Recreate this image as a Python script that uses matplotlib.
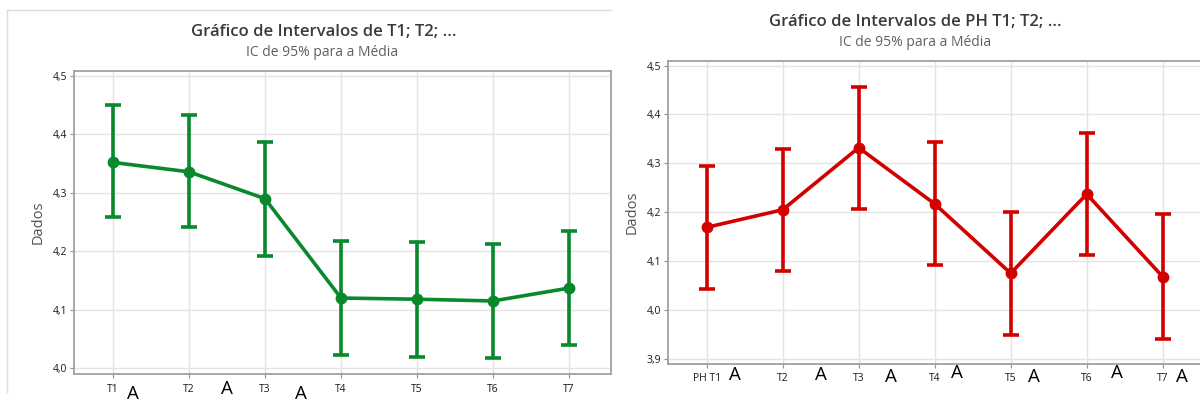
import matplotlib
matplotlib.use('Agg')
import matplotlib.pyplot as plt
import matplotlib.ticker as mticker
import matplotlib.lines as mlines

plt.rcParams['font.family'] = ['Open Sans', 'DejaVu Sans']

# left chart (green)
left_labels = ['T1', 'T2', 'T3', 'T4', 'T5', 'T6', 'T7']
left_mean = [4.352, 4.336, 4.290, 4.120, 4.118, 4.115, 4.137]
left_low = [4.258, 4.241, 4.192, 4.023, 4.019, 4.017, 4.040]
left_high = [4.451, 4.434, 4.387, 4.218, 4.216, 4.213, 4.235]
left_letters = ['A', 'A', 'A']

# right chart (red)
right_labels = ['PH T1', 'T2', 'T3', 'T4', 'T5', 'T6', 'T7']
right_mean = [4.169, 4.205, 4.332, 4.217, 4.075, 4.237, 4.068]
right_low = [4.042, 4.079, 4.206, 4.092, 3.948, 4.113, 3.940]
right_high = [4.294, 4.330, 4.456, 4.343, 4.201, 4.363, 4.196]
right_letters = ['A', 'A', 'A', 'A', 'A', 'A', 'A']

W, H = 1200, 401
fig = plt.figure(figsize=(12, 4.01), dpi=100)


def px(x, y):
    # pixel coords (top-left origin) -> figure fraction
    return x / W, 1 - y / H


def draw_panel(rect, labels, mean, low, high, color, ylim, yticks, xlim):
    ax = fig.add_axes(rect)
    x = list(range(1, len(mean) + 1))
    yerr = [[m - l for m, l in zip(mean, low)], [h - m for m, h in zip(mean, high)]]
    ax.errorbar(x, mean, yerr=yerr, color=color, lw=2.6, marker='o', ms=7.5,
                capsize=6, capthick=2.6, elinewidth=2.6, zorder=3)
    ax.set_xlim(*xlim)
    ax.set_ylim(*ylim)
    ax.set_xticks(x)
    ax.set_xticklabels(labels)
    ax.set_yticks(yticks)
    ax.yaxis.set_major_formatter(mticker.FuncFormatter(lambda v, p: f'{v:.1f}'.replace('.', ',')))
    ax.grid(True, color='#e4e4e4', lw=1.0, zorder=0)
    for s in ax.spines.values():
        s.set_color('#a0a0a0')
        s.set_linewidth(1.3)
    ax.tick_params(axis='both', length=3, width=0.8, color='#909090',
                   labelsize=7.5, labelcolor='#1a1a1a', pad=2)
    ax.tick_params(axis='x', pad=4)
    ax.text(-0.066, 0.5, 'Dados', transform=ax.transAxes, rotation=90,
            ha='center', va='center', fontsize=10.5, color='#505050')
    return ax


draw_panel([74 / W, (H - 374) / H, 537 / W, 302.7 / H],
           left_labels, left_mean, left_low, left_high, '#07892c',
           (3.990, 4.508), [4.0, 4.1, 4.2, 4.3, 4.4, 4.5], (0.487, 7.553))

draw_panel([668 / W, (H - 363.7) / H, 536.5 / W, 303 / H],
           right_labels, right_mean, right_low, right_high, '#d30000',
           (3.890, 4.510), [3.9, 4.0, 4.1, 4.2, 4.3, 4.4, 4.5], (0.491, 7.55))

# titles
fig.text(*px(324, 32), 'Gráfico de Intervalos de T1; T2; ...', ha='center', va='center',
         fontsize=12, fontweight='semibold', color='#3a3a3a')
fig.text(*px(322, 52), 'IC de 95% para a Média', ha='center', va='center',
         fontsize=10, color='#606060')
fig.text(*px(915, 22), 'Gráfico de Intervalos de PH T1; T2; ...', ha='center', va='center',
         fontsize=12, fontweight='semibold', color='#3a3a3a')
fig.text(*px(915, 42), 'IC de 95% para a Média', ha='center', va='center',
         fontsize=10, color='#606060')

# frame of the left window
fig.add_artist(mlines.Line2D([7 / W, 611 / W], [1 - 10 / H, 1 - 10 / H], color='#dcdcdc', lw=1))
fig.add_artist(mlines.Line2D([7 / W, 7 / W], [1 - 10 / H, 1 - 392 / H], color='#dcdcdc', lw=1))

# group letters
left_letter_pos = [(132.5, 394), (227, 389), (300.5, 394)]
right_letter_pos = [(735, 374.5), (821, 375), (891, 377), (957, 372.5),
                    (1033.5, 377), (1117, 372.5), (1182, 377)]
for t, (lx, ly) in zip(left_letters, left_letter_pos):
    fig.text(*px(lx, ly), t, ha='center', va='center', fontsize=13.5, color='#000000')
for t, (lx, ly) in zip(right_letters, right_letter_pos):
    fig.text(*px(lx, ly), t, ha='center', va='center', fontsize=13.5, color='#000000')

fig.savefig('out.png', dpi=100)
